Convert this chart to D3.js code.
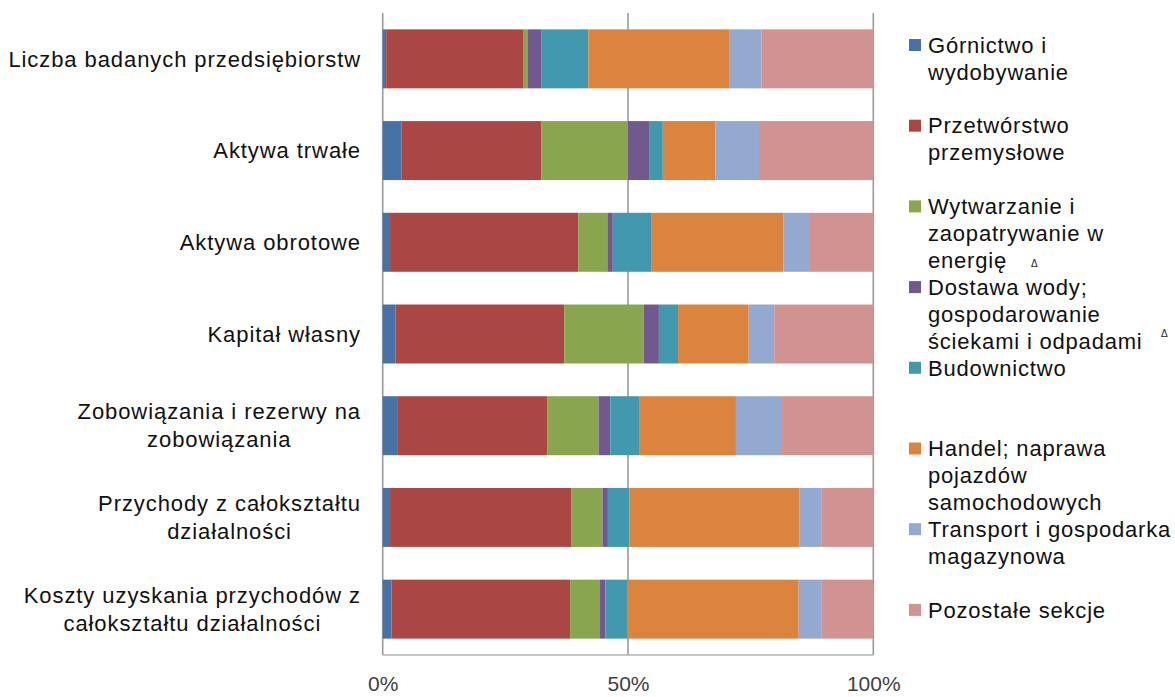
<!DOCTYPE html>
<html>
<head>
<meta charset="utf-8">
<script src="https://cdn.jsdelivr.net/npm/d3@7"></script>
<style>
  html, body { margin: 0; padding: 0; background: #fff; }
  svg { display: block; }
  text { font-family: "Liberation Sans", Arial, sans-serif; }
</style>
</head>
<body>
<svg id="chart" width="1175" height="697"></svg>
<script>
// ---- data ----
const categories = [
  "Liczba badanych przedsiębiorstw",
  "Aktywa trwałe",
  "Aktywa obrotowe",
  "Kapitał własny",
  "Zobowiązania i rezerwy na\nzobowiązania",
  "Przychody z całokształtu\ndziałalności",
  "Koszty uzyskania przychodów z\ncałokształtu działalności"
];
const seriesNames = [
  "Górnictwo i\nwydobywanie",
  "Przetwórstwo\nprzemysłowe",
  "Wytwarzanie i\nzaopatrywanie w\nenergię",
  "Dostawa wody;\ngospodarowanie\nściekami i odpadami",
  "Budownictwo",
  "Handel; naprawa\npojazdów\nsamochodowych",
  "Transport i gospodarka\nmagazynowa",
  "Pozostałe sekcje"
];
const seriesMarks = [false, false, true, true, false, false, false, false];
const seriesColors = ["#4672a8", "#aa4643", "#89a54e", "#71588f", "#4198af", "#db843d", "#93a9cf", "#d19392"];
// values (%) per series, one value per category (in category order)
const gornictwo    = [0.7, 3.8, 1.5, 2.6, 3.1, 1.5, 1.8];
const przetworstwo = [27.9, 28.5, 38.4, 34.4, 30.5, 37.0, 36.4];
const energia      = [1.0, 17.7, 5.9, 16.2, 10.4, 6.3, 6.1];
const woda         = [2.7, 4.3, 1.1, 3.1, 2.4, 1.1, 1.1];
const budownictwo  = [9.6, 2.8, 7.8, 3.9, 6.0, 4.4, 4.5];
const handel       = [28.7, 10.7, 27.0, 14.4, 19.6, 34.6, 34.9];
const transport    = [6.6, 8.9, 5.2, 5.2, 9.4, 4.6, 4.7];
const pozostale    = [22.8, 23.3, 13.1, 20.2, 18.6, 10.5, 10.5];
const seriesValues = [gornictwo, przetworstwo, energia, woda, budownictwo, handel, transport, pozostale];
const tickValues = [0, 0.5, 1];
const tickLabels = ["0%", "50%", "100%"];

// ---- layout ----
const svg = d3.select("#chart");
const x0 = 382.7, x1 = 873.3, yTop = 13, yBot = 655;

const rows = categories.map((c, i) => {
  const r = { cat: c };
  seriesValues.forEach((vals, s) => { r["s" + s] = vals[i]; });
  return r;
});
const keys = seriesNames.map((_, s) => "s" + s);
const stacked = d3.stack().keys(keys).offset(d3.stackOffsetExpand)(rows);

const x = d3.scaleLinear().domain([0, 1]).range([x0, x1]);
const y = d3.scaleBand().domain(categories).range([yTop, yBot]).paddingInner(0.357).paddingOuter(0.1785);

// gridlines at 50% and 100%, plus axis line at 0%
svg.append("g").selectAll("line").data(tickValues).join("line")
  .attr("x1", d => x(d)).attr("x2", d => x(d))
  .attr("y1", yTop).attr("y2", yBot)
  .attr("stroke", "#9a9a9a").attr("stroke-width", 1.6);

// bars
svg.append("g").selectAll("g").data(stacked).join("g")
  .attr("fill", (d, i) => seriesColors[i])
  .selectAll("rect").data(d => d).join("rect")
  .attr("x", d => x(d[0]))
  .attr("width", d => Math.max(0, x(d[1]) - x(d[0])))
  .attr("y", d => y(d.data.cat))
  .attr("height", y.bandwidth());

// bottom axis
const xAxis = d3.axisBottom(x).tickValues(tickValues).tickFormat((d, i) => tickLabels[i]).tickSize(0).tickPadding(21);
const gx = svg.append("g").attr("transform", `translate(0,${yBot})`).call(xAxis);
gx.select(".domain").attr("stroke", "#b5b5b5").attr("stroke-width", 1.5).attr("d", `M${x0},0H${x1}`);
gx.selectAll("text").attr("font-size", 21).attr("fill", "#404040")
  .attr("font-family", "'Liberation Sans', Arial, sans-serif");

// category labels
const lineH = 28;
const catG = svg.append("g");
categories.forEach(c => {
  const lines = c.split("\n");
  const cy = y(c) + y.bandwidth() / 2;
  const t = catG.append("text")
    .attr("font-size", 22).attr("letter-spacing", 0.92).attr("fill", "#111")
    .attr("text-anchor", "middle");
  lines.forEach((ln, k) => {
    t.append("tspan").text(ln)
      .attr("y", cy + (k - (lines.length - 1) / 2) * lineH).attr("dy", "0.35em");
  });
  const spans = t.selectAll("tspan").nodes();
  const widths = spans.map(n => n.getComputedTextLength());
  const maxW = d3.max(widths);
  const right = 361;
  spans.forEach(n => n.setAttribute("x", right - maxW / 2));
});

// legend
const legTop = 45, legStep = 80.7, legLine = 27;
const leg = svg.append("g");
seriesNames.forEach((name, i) => {
  const cy = legTop + i * legStep;
  leg.append("rect").attr("x", 909).attr("y", cy - 6).attr("width", 12).attr("height", 12)
    .attr("fill", seriesColors[i]);
  const lines = name.split("\n");
  const t = leg.append("text").attr("font-size", 22).attr("letter-spacing", 0.8).attr("fill", "#111");
  lines.forEach((ln, k) => {
    t.append("tspan").attr("x", 928).attr("y", cy + k * legLine).attr("dy", "0.35em").text(ln);
  });
  if (seriesMarks[i]) {
    const last = t.selectAll("tspan").nodes().slice(-1)[0];
    const w = last.getComputedTextLength();
    const ly = cy + (lines.length - 1) * legLine;
    const isLong = w > 200;
    leg.append("text")
      .attr("x", isLong ? 1161 : 1031)
      .attr("y", isLong ? ly - 8 : ly + 3)
      .attr("dy", "0.35em")
      .attr("font-size", 10).attr("fill", "#1a1a1a").text("Δ");
  }
});
</script>
</body>
</html>
